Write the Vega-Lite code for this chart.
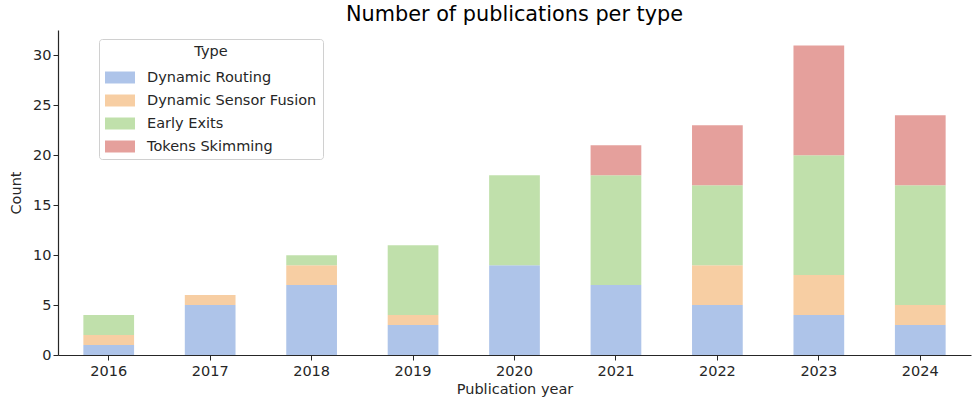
{
  "$schema": "https://vega.github.io/schema/vega-lite/v6.json",
  "width": 913,
  "height": 325,
  "autosize": {"type": "none"},
  "padding": {"left": 58, "top": 30, "right": 1, "bottom": 48},
  "title": {"text": "Number of publications per type", "fontSize": 20.8, "fontWeight": "normal", "font": "DejaVu Sans", "color": "#000000", "anchor": "middle", "offset": 4},
  "config": {
    "view": {"stroke": null},
    "font": "DejaVu Sans",
    "axis": {"labelFont": "DejaVu Sans", "titleFont": "DejaVu Sans", "labelFontSize": 14.5, "titleFontSize": 14.5, "titleFontWeight": "normal", "labelColor": "#262626", "titleColor": "#262626", "domainColor": "#262626", "tickColor": "#262626", "grid": false, "tickSize": 5, "domainWidth": 1.2}
  },
  "data": {"values": [
    {"year": "2016", "type": "Dynamic Routing", "count": 1},
    {"year": "2016", "type": "Dynamic Sensor Fusion", "count": 1},
    {"year": "2016", "type": "Early Exits", "count": 2},
    {"year": "2017", "type": "Dynamic Routing", "count": 5},
    {"year": "2017", "type": "Dynamic Sensor Fusion", "count": 1},
    {"year": "2018", "type": "Dynamic Routing", "count": 7},
    {"year": "2018", "type": "Dynamic Sensor Fusion", "count": 2},
    {"year": "2018", "type": "Early Exits", "count": 1},
    {"year": "2019", "type": "Dynamic Routing", "count": 3},
    {"year": "2019", "type": "Dynamic Sensor Fusion", "count": 1},
    {"year": "2019", "type": "Early Exits", "count": 7},
    {"year": "2020", "type": "Dynamic Routing", "count": 9},
    {"year": "2020", "type": "Early Exits", "count": 9},
    {"year": "2021", "type": "Dynamic Routing", "count": 7},
    {"year": "2021", "type": "Early Exits", "count": 11},
    {"year": "2021", "type": "Tokens Skimming", "count": 3},
    {"year": "2022", "type": "Dynamic Routing", "count": 5},
    {"year": "2022", "type": "Dynamic Sensor Fusion", "count": 4},
    {"year": "2022", "type": "Early Exits", "count": 8},
    {"year": "2022", "type": "Tokens Skimming", "count": 6},
    {"year": "2023", "type": "Dynamic Routing", "count": 4},
    {"year": "2023", "type": "Dynamic Sensor Fusion", "count": 4},
    {"year": "2023", "type": "Early Exits", "count": 12},
    {"year": "2023", "type": "Tokens Skimming", "count": 11},
    {"year": "2024", "type": "Dynamic Routing", "count": 3},
    {"year": "2024", "type": "Dynamic Sensor Fusion", "count": 2},
    {"year": "2024", "type": "Early Exits", "count": 12},
    {"year": "2024", "type": "Tokens Skimming", "count": 7}
  ]},
  "mark": {"type": "bar"},
  "encoding": {
    "x": {"field": "year", "type": "ordinal", "title": "Publication year",
      "scale": {"paddingInner": 0.5, "paddingOuter": 0.25},
      "axis": {"labelAngle": 0, "labelPadding": 4, "titlePadding": 5}},
    "y": {"field": "count", "type": "quantitative", "aggregate": "sum", "title": "Count", "stack": "zero",
      "scale": {"domain": [0, 32.55], "nice": false},
      "axis": {"values": [0, 5, 10, 15, 20, 25, 30], "titlePadding": 9}},
    "order": {"field": "type", "sort": "ascending"},
    "color": {"field": "type", "type": "nominal", "title": "Type",
      "scale": {"domain": ["Dynamic Routing", "Dynamic Sensor Fusion", "Early Exits", "Tokens Skimming"],
        "range": ["#aec4e9", "#f7cea3", "#c0e0ab", "#e5a09c"]},
      "legend": {"orient": "none", "legendX": 41, "legendY": 9, "strokeColor": "#d0d0d0", "fillColor": "#ffffff", "padding": 6, "cornerRadius": 3,
        "titleFontSize": 14.5, "titleFontWeight": "normal", "titleAnchor": "middle", "titleColor": "#262626", "titleFont": "DejaVu Sans", "titlePadding": 3,
        "labelFontSize": 14.5, "labelColor": "#262626", "labelFont": "DejaVu Sans", "labelOffset": 12, "labelLimit": 400,
        "symbolType": "M-1,-0.4L1,-0.4L1,0.4L-1,0.4Z", "symbolSize": 900, "symbolStrokeWidth": 0, "symbolOpacity": 1, "rowPadding": 1}}
  }
}
